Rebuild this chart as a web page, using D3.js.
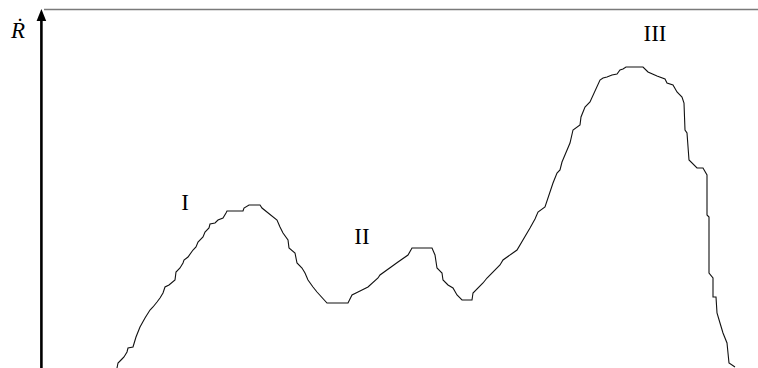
<!DOCTYPE html>
<html>
<head>
<meta charset="utf-8">
<script src="https://cdn.jsdelivr.net/npm/d3@7"></script>
<style>
  html, body { margin: 0; padding: 0; background: #fff; }
  svg { display: block; }
  .lbl { font-family: "Liberation Serif", "Times New Roman", serif; font-size: 23px; fill: #000; }
</style>
</head>
<body>
<svg id="chart" width="758" height="368"></svg>
<script>
// Time (arbitrary units) and rate Ṙ (arbitrary units) along the traced record
const time = [
  75, 76, 80, 82, 85, 86, 91, 94, 98, 103, 108, 111, 115, 118, 121, 123, 127, 133, 134, 138,
  141, 142, 146, 151, 154, 156, 161, 163, 167, 168, 173, 176, 181, 184, 185, 201, 202, 207, 218, 220,
  235, 238, 241, 246, 247, 253, 255, 260, 263, 266, 271, 275, 285, 306, 310, 316, 326, 336, 338, 356,
  366, 370, 390, 393, 395, 400, 401, 406, 411, 415, 420, 430, 431, 441, 445, 458, 461, 475, 488, 493,
  496, 503, 511, 515, 518, 520, 528, 531, 538, 539, 543, 548, 558, 561, 565, 570, 575, 578, 581, 584,
  601, 606, 615, 623, 625, 631, 635, 640, 642, 643, 645, 647, 655, 661, 665, 665, 667, 667, 671, 671,
  674, 675, 678, 681, 685, 686, 687, 693
];
const rate = [
  0, 5, 9, 11, 16, 20, 21, 31, 41, 50, 58, 61, 66, 70, 75, 81, 83, 88, 96, 100,
  105, 108, 111, 118, 121, 126, 131, 136, 140, 144, 145, 148, 150, 155, 157, 157, 160, 163, 163, 160,
  148, 141, 135, 128, 120, 115, 105, 100, 95, 88, 81, 76, 65, 65, 73, 76, 81, 90, 93, 106,
  113, 120, 120, 113, 100, 95, 88, 83, 80, 73, 68, 68, 75, 85, 90, 103, 108, 118, 140, 149,
  156, 161, 185, 195, 198, 206, 225, 238, 243, 251, 261, 266, 288, 290, 291, 293, 294, 298, 299, 301,
  301, 296, 292, 289, 285, 283, 276, 271, 265, 238, 235, 208, 200, 200, 193, 153, 151, 95, 90, 71,
  71, 55, 45, 35, 25, 15, 5, 1
];

// Regime labels placed in data units
const regimeLabels = ["I", "II", "III"];
const regimeTime = [143, 320, 613];
const regimeRate = [158, 124, 327];

const W = 758, H = 368;
const x = d3.scaleLinear().domain([0, 716]).range([42, 758]);
const y = d3.scaleLinear().domain([0, 358]).range([368, 10]);

const svg = d3.select("#chart");

// Upper frame line
svg.append("line")
  .attr("x1", x(2)).attr("x2", W)
  .attr("y1", 9.5).attr("y2", 9.5)
  .attr("stroke", "#7a7a7a").attr("stroke-width", 1.4);

// Rate axis: bare vertical line ending in an arrowhead
const yAxis = d3.axisLeft(y).tickValues([]).tickSizeOuter(0);
const gy = svg.append("g").attr("transform", `translate(${x(0) - 0.6},0)`).call(yAxis);
gy.select(".domain").remove();
gy.append("line")
  .attr("x1", 0).attr("x2", 0)
  .attr("y1", H).attr("y2", y(350))
  .attr("stroke", "#000").attr("stroke-width", 2.6);
gy.append("path")
  .attr("d", `M-4.8,${y(347)} L0,${y(359)} L4.8,${y(347)} Z`)
  .attr("fill", "#000");

// Axis title Ṙ
svg.append("text")
  .attr("class", "lbl")
  .attr("x", 11).attr("y", 37.5)
  .attr("font-style", "italic")
  .attr("font-size", "25px")
  .text("R\u0307");

// Rate curve
const pts = time.map((t, i) => [t, rate[i]]);
svg.append("path")
  .datum(pts)
  .attr("fill", "none")
  .attr("stroke", "#111")
  .attr("stroke-width", 1.1)
  .attr("d", d3.line().x(d => x(d[0])).y(d => y(d[1])));

// Regime labels
svg.selectAll("text.reg")
  .data(regimeLabels)
  .join("text")
  .attr("class", "lbl reg")
  .attr("text-anchor", "middle")
  .attr("x", (d, i) => x(regimeTime[i]))
  .attr("y", (d, i) => y(regimeRate[i]))
  .text(d => d);
</script>
</body>
</html>
